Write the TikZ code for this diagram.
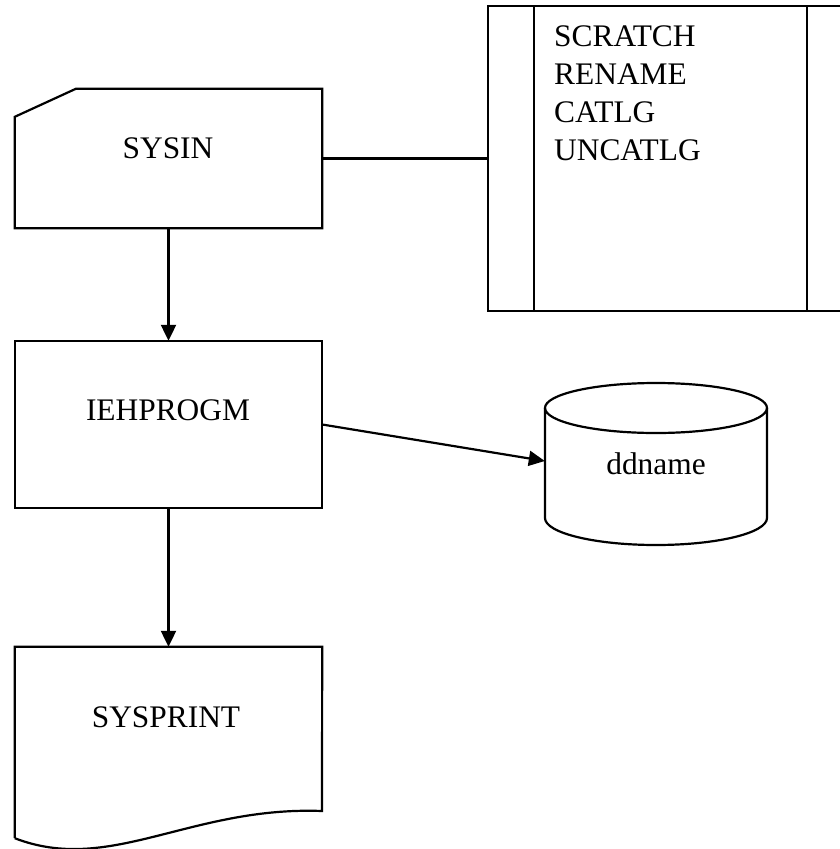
\documentclass[tikz,border=0pt]{standalone}
\usepackage{fontspec}
\setmainfont{Liberation Serif}
\usetikzlibrary{arrows.meta,calc}
\begin{document}
\begin{tikzpicture}[x=1pt,y=-1pt,
  line/.style={line width=2.2pt},
  flow/.style={line, -{Triangle[length=16pt,width=15pt]}},
  area/.style={rectangle, draw=none, inner sep=0pt},
  txt/.style={font=\fontsize{31.4}{38}\selectfont, inner sep=0pt, anchor=base},
  ]
\fill[white] (0,0) rectangle (839,849);
\useasboundingbox (0,0) rectangle (839,849);

% outline areas of the symbols
\node[area, minimum width=307pt, minimum height=139pt] (sysin) at (168.5,158.5) {};
\node[area, minimum width=307pt, minimum height=167pt] (prog) at (168.5,424.5) {};
\node[area, minimum width=307pt, minimum height=191pt] (sysprint) at (168.5,742.5) {};
\node[area, minimum width=222pt, minimum height=162pt] (cyl) at (656,464) {};
\node[area, minimum width=382pt, minimum height=305pt] (ctl) at (679,158.5) {};

% punched card
\draw[line] (sysin.south west) -- ($(sysin.north west)+(0,28)$)
  -- ($(sysin.north west)+(61,0)$) -- (sysin.north east)
  -- (sysin.south east) -- cycle;

% process box
\draw[line] (prog.south west) rectangle (prog.north east);

% document with wavy bottom
\draw[line] (sysprint.south west) -- (sysprint.north west) -- (sysprint.north east)
  -- (322,811) .. controls (190,806) and (110,875) .. (sysprint.south west);

% disk cylinder
\draw[line] (656,408) ellipse [x radius=111pt, y radius=25pt];
\draw[line] (545,408) -- (545,518)
  arc[start angle=180, end angle=360, x radius=111pt, y radius=27pt] -- (767,408);

% predefined-process style box
\draw[line] (ctl.south west) rectangle (ctl.north east);
\draw[line] (534,6) -- (534,311);
\draw[line] (807,6) -- (807,311);

% texts
\node[txt] (tsysin) at (168,158) {SYSIN};
\node[txt] (tprog) at (168,420) {IEHPROGM};
\node[txt] (tsysprint) at (166,727) {SYSPRINT};
\node[txt] (tdd) at (656,474) {ddname};
\node[txt, anchor=base west] (c1) at (554,46) {SCRATCH};
\node[txt, anchor=base west] (c2) at (554,84) {RENAME};
\node[txt, anchor=base west] (c3) at (554,122) {CATLG};
\node[txt, anchor=base west] (c4) at (554,160) {UNCATLG};

% connectors
\draw[line] (sysin.east) -- (ctl.west);
\draw[flow] (sysin.south) -- (prog.north);
\draw[flow] (prog.south) -- (sysprint.north);
\draw[flow] (prog.east) -- ($(cyl.west)+(0,-3)$);
\end{tikzpicture}
\end{document}
